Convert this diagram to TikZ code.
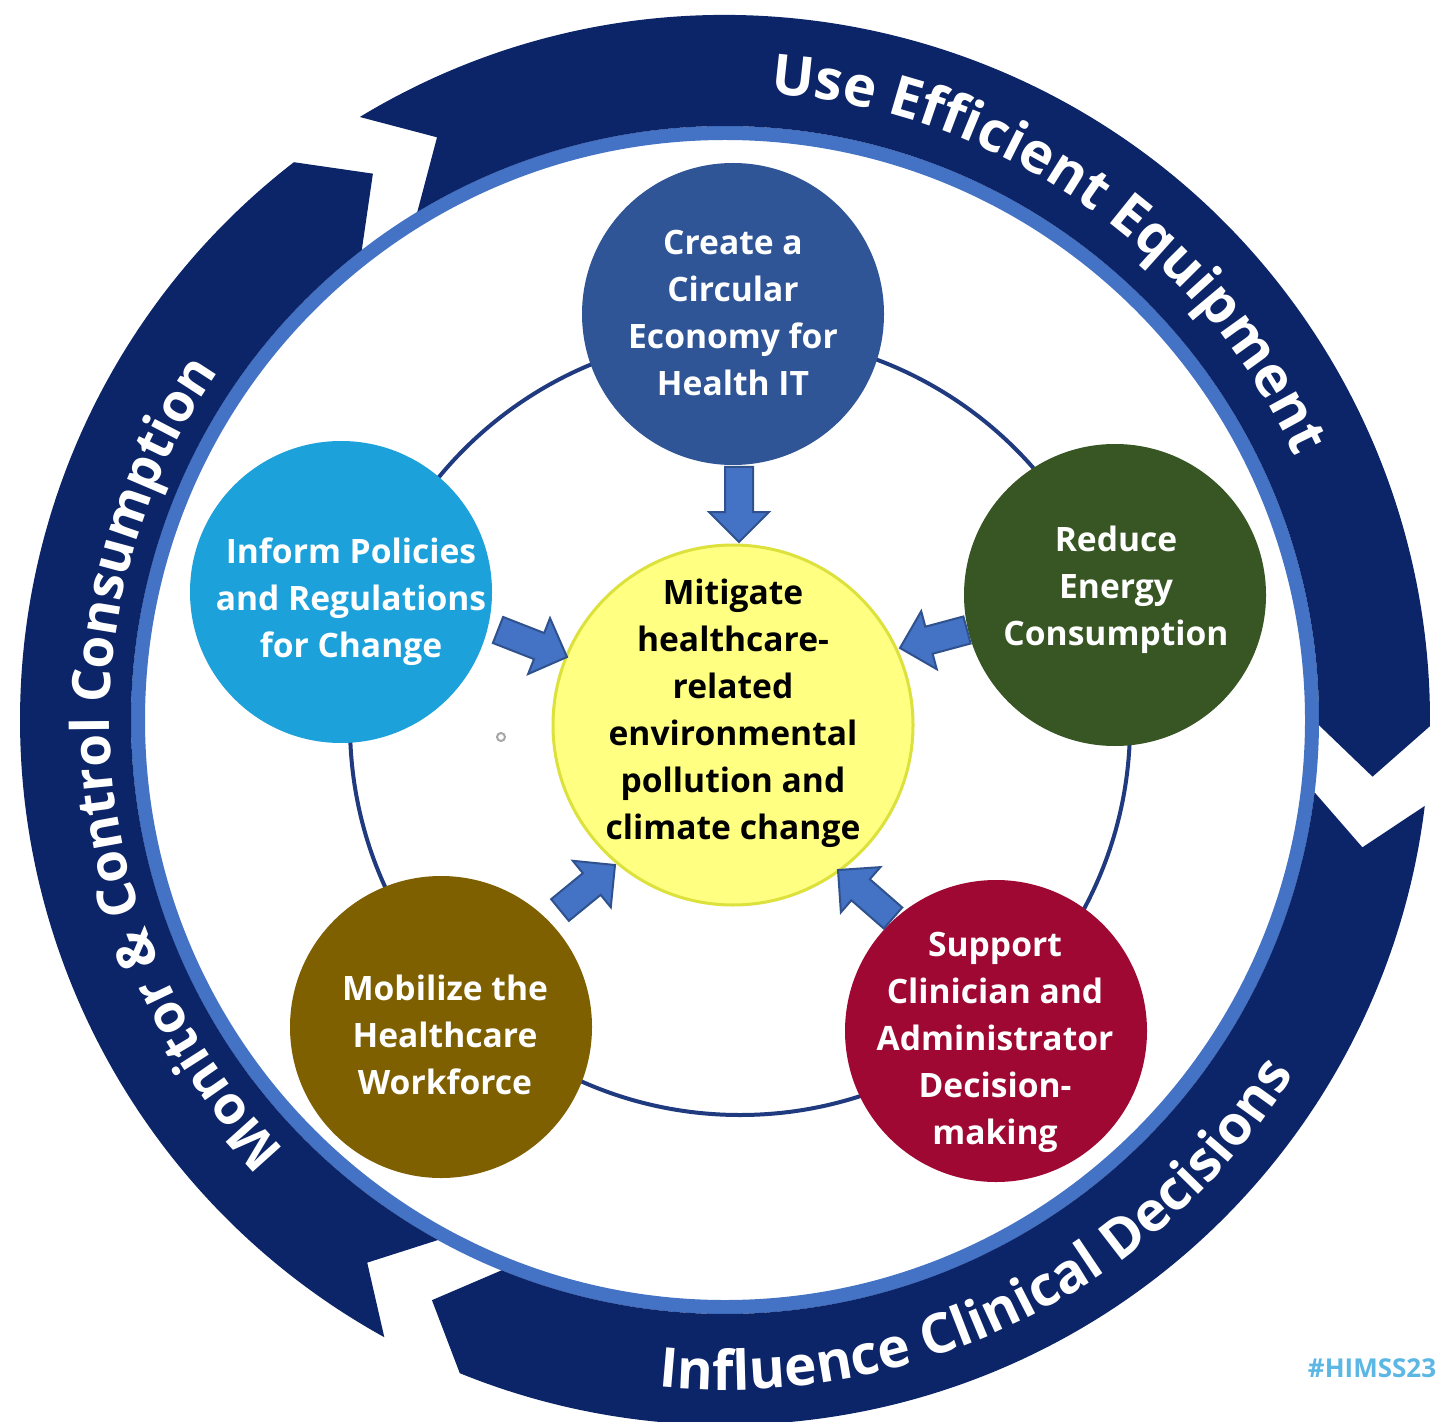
\documentclass[tikz,border=0pt]{standalone}
\usepackage{fontspec}
\setmainfont{Open Sans}
\usetikzlibrary{calc,decorations.text}
\definecolor{ringnavy}{RGB}{12,36,104}
\definecolor{stripeblue}{RGB}{68,114,196}
\definecolor{linknavy}{RGB}{32,58,128}
\definecolor{createblue}{RGB}{47,85,151}
\definecolor{informblue}{RGB}{29,161,219}
\definecolor{reducegreen}{RGB}{55,86,35}
\definecolor{mobbrown}{RGB}{127,96,0}
\definecolor{suppred}{RGB}{160,8,52}
\definecolor{coreyellow}{RGB}{255,255,130}
\definecolor{coreedge}{RGB}{220,225,60}
\definecolor{arrowfill}{RGB}{68,114,196}
\definecolor{arrowedge}{RGB}{47,82,143}
\definecolor{tagblue}{RGB}{93,183,228}
\newcommand\rfont[1]{\fontsize{#1}{#1}\selectfont\bfseries}
% ring segment: tail angle, notch angle, head angle, tip angle
\newcommand\ringseg[4]{\fill[ringnavy] (#1:705) arc[start angle=#1,end angle=#3,radius=352.5pt] -- (#4:650) -- (#3:594) arc[start angle=#3,end angle=#1,radius=297pt] -- (#2:650) -- cycle;}
% block arrow from tail coordinate to tip coordinate
\newcommand\blkarrow[2]{\coordinate (#1h) at ($(#2)!15pt!(#1)$);
 \draw[blockarr] ($(#1)!7pt!90:(#2)$) -- ($(#1h)!7pt!90:(#2)$) -- ($(#1h)!15pt!90:(#2)$) -- (#2) -- ($(#1h)!15pt!-90:(#2)$) -- ($(#1h)!7pt!-90:(#2)$) -- ($(#1)!7pt!-90:(#2)$) -- cycle;}
\tikzset{
 topic/.style={circle, inner sep=0pt, minimum size=151pt},
 core/.style={circle, fill=coreyellow, draw=coreedge, line width=1.5pt, minimum size=180pt, inner sep=0pt},
 lbl/.style={text=white, align=center, inner sep=0pt, font=\fontsize{16.8}{23.5}\selectfont\bfseries},
 corelbl/.style={lbl, text=black},
 blockarr/.style={fill=arrowfill, draw=arrowedge, line width=1pt, line join=miter},
 ringtext/.style={decorate, decoration={text along path, text align=center, text color=white, text={#1}}}
}
\begin{document}
\begin{tikzpicture}[x=0.5pt,y=0.5pt]
\useasboundingbox (0,0) rectangle (1443,1421);
\fill[white] (0,0) rectangle (1443,1421);
\coordinate (rc) at (725,701);
\coordinate (lc) at (740,696);
% outer ring
\draw[stripeblue, line width=7pt] (rc) circle[radius=293.5pt];
\begin{scope}[shift={(rc)}]
\ringseg{121.2}{116.3}{-0.5}{-5.0}
\ringseg{-7.0}{-11.3}{-112.1}{-116.8}
\ringseg{-118.9}{-123.4}{-232.3}{-237.2}
\path[ringtext={|\rfont{28}|Use Efficient Equipment}] (115.3:628) arc[start angle=115.3,end angle=-4.7,radius=314pt];
\path[ringtext={|\rfont{26.5}|Monitor {\&} Control Consumption}] (244.9:615) arc[start angle=244.9,end angle=124.9,radius=307.5pt];
\path[ringtext={|\rfont{27.5}|Influence Clinical Decisions}] (-123.8:670) arc[start angle=-123.8,end angle=-3.8,radius=335pt];
\end{scope}
% inner linking ring
\draw[linknavy, line width=2pt] (lc) circle[radius=195pt];
% topic circles
\node[topic, fill=createblue] (create) at (733,1107) {};
\node[topic, fill=informblue] (inform) at (341,829) {};
\node[topic, fill=reducegreen] (reduce) at (1115,826) {};
\node[topic, fill=suppred] (support) at (996,390) {};
\node[topic, fill=mobbrown] (mobilize) at (441,394) {};
\node[core] (core) at (733,696) {};
% labels
\node[lbl] (createtxt) at (733,1108) {Create a\\Circular\\Economy for\\Health IT};
\node[lbl] (informtxt) at (351,819) {Inform Policies\\and Regulations\\for Change};
\node[lbl] (reducetxt) at (1116,831) {Reduce\\Energy\\Consumption};
\node[lbl] (supporttxt) at (995,379) {Support\\Clinician and\\Administrator\\Decision-\\making};
\node[lbl] (mobilizetxt) at (445,386) {Mobilize the\\Healthcare\\Workforce};
\node[corelbl] (coretxt) at (733,708) {Mitigate\\healthcare-\\related\\environmental\\pollution and\\climate change};
% block arrows
\coordinate (tTop) at (739,954); \coordinate (pTop) at (739,879);
\coordinate (tLeft) at (498,791); \coordinate (pLeft) at (567,764);
\coordinate (tRight) at (967,791); \coordinate (pRight) at (900,773);
\coordinate (tBL) at (560,511); \coordinate (pBL) at (615,556);
\coordinate (tBR) at (893,503); \coordinate (pBR) at (838,551);
\blkarrow{tTop}{pTop}
\blkarrow{tLeft}{pLeft}
\blkarrow{tRight}{pRight}
\blkarrow{tBL}{pBL}
\blkarrow{tBR}{pBR}
% small grey mark
\draw[gray!70, line width=1pt] (501,684) circle[radius=2pt];
% hashtag
\node[text=tagblue, font=\fontsize{13}{15}\selectfont\bfseries] (tag) at (1372,53) {\#HIMSS23};
\end{tikzpicture}
\end{document}
